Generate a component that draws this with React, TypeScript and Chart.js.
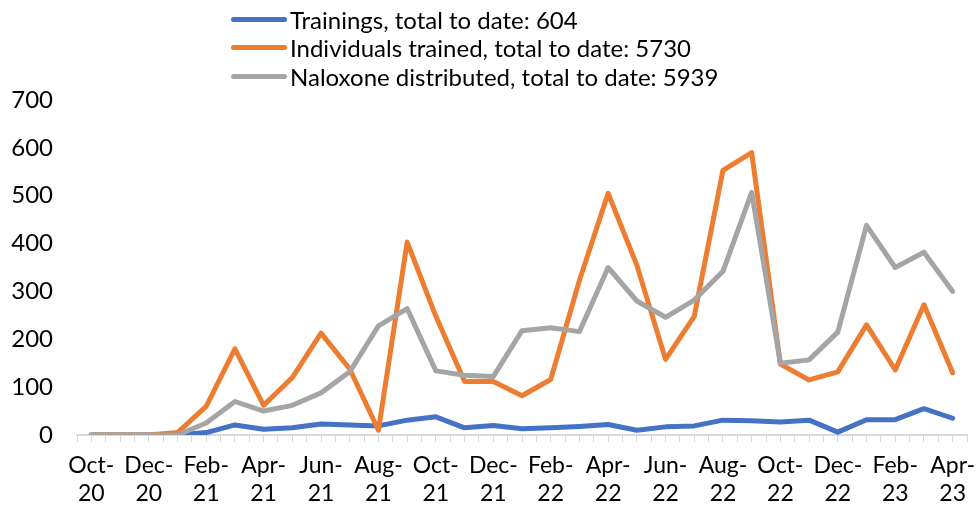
import React, { useEffect, useRef } from "react";
import { Chart, registerables } from "chart.js";

Chart.register(...registerables);

const months: string[] = [
  "Oct-20", "Nov-20", "Dec-20", "Jan-21", "Feb-21", "Mar-21", "Apr-21", "May-21",
  "Jun-21", "Jul-21", "Aug-21", "Sep-21", "Oct-21", "Nov-21", "Dec-21", "Jan-22",
  "Feb-22", "Mar-22", "Apr-22", "May-22", "Jun-22", "Jul-22", "Aug-22", "Sep-22",
  "Oct-22", "Nov-22", "Dec-22", "Jan-23", "Feb-23", "Mar-23", "Apr-23",
];

const trainings: number[] = [
  0, 0, 0, 0, 5, 21, 12, 15, 23, 21, 19, 31, 38, 15, 20, 13,
  15, 18, 22, 10, 17, 19, 31, 30, 27, 31, 6, 32, 32, 55, 35,
];

const individuals: number[] = [
  0, 0, 0, 5, 60, 180, 62, 120, 213, 138, 10, 403, 248, 112, 112, 82,
  116, 323, 505, 355, 158, 248, 553, 590, 148, 115, 132, 230, 136, 272, 130,
];

const naloxone: number[] = [
  0, 0, 0, 0, 25, 70, 50, 62, 88, 132, 228, 264, 134, 125, 122, 218,
  224, 216, 350, 280, 246, 282, 342, 507, 150, 157, 215, 438, 350, 382, 300,
];

const seriesNames: string[] = [
  "Trainings, total to date: 604",
  "Individuals trained, total to date: 5730",
  "Naloxone distributed, total to date: 5939",
];

const seriesColors: string[] = ["#4472C4", "#ED7D31", "#A5A5A5"];

const yTicks: number[] = [0, 100, 200, 300, 400, 500, 600, 700];

const FONT = "Lato, 'Noto Sans', sans-serif";

export default function App() {
  const canvasRef = useRef<HTMLCanvasElement | null>(null);

  useEffect(() => {
    if (!canvasRef.current) return;
    const toPoints = (arr: number[]) => arr.map((v, i) => ({ x: i, y: v }));
    const allSeries = [trainings, individuals, naloxone];
    const chart = new Chart(canvasRef.current, {
      type: "line",
      data: {
        datasets: allSeries.map((arr, i) => ({
          label: seriesNames[i],
          data: toPoints(arr),
          borderColor: seriesColors[i],
          backgroundColor: seriesColors[i],
          borderWidth: 5,
          pointRadius: 0,
          tension: 0,
          borderCapStyle: "round" as const,
          borderJoinStyle: "round" as const,
          order: 3 - i,
        })),
      },
      options: {
        animation: false,
        responsive: false,
        maintainAspectRatio: false,
        layout: { padding: { top: 100, right: 10, left: 0, bottom: 0 } },
        plugins: {
          legend: { display: false },
          tooltip: { enabled: false },
        },
        scales: {
          x: {
            type: "linear",
            min: -0.5,
            max: months.length - 0.5,
            afterFit: (scale: any) => {
              scale.height = 75;
            },
            afterBuildTicks: (scale: any) => {
              const t: { value: number }[] = [];
              for (let k = -1; k <= months.length * 2 - 1; k++) t.push({ value: k / 2 });
              scale.ticks = t;
            },
            ticks: {
              autoSkip: false,
              maxRotation: 0,
              minRotation: 0,
              padding: 10,
              color: "#000",
              font: { family: FONT, size: 23 },
              callback: (value: any) => {
                const v = Number(value);
                if (Number.isInteger(v) && v % 2 === 0 && v >= 0 && v < months.length) {
                  const [m, y] = months[v].split("-");
                  return [m + "-", y];
                }
                return "";
              },
            },
            grid: {
              drawOnChartArea: false,
              drawTicks: true,
              tickLength: 7,
              color: "#D9D9D9",
              lineWidth: 1,
            },
            border: { display: true, color: "#D9D9D9", width: 2 },
          },
          y: {
            min: 0,
            max: 700,
            afterFit: (scale: any) => {
              scale.width = 77;
            },
            afterBuildTicks: (scale: any) => {
              scale.ticks = yTicks.map((v) => ({ value: v }));
            },
            ticks: {
              padding: 24,
              color: "#000",
              font: { family: FONT, size: 24 },
            },
            grid: { display: false, drawTicks: false },
            border: { display: false },
          },
        },
      },
    });
    return () => chart.destroy();
  }, []);

  return (
    <div style={{ position: "fixed", left: 0, top: 0, width: 977, height: 510, background: "#fff" }}>
      <canvas ref={canvasRef} width={977} height={510} style={{ position: "absolute", left: 0, top: 0 }} />
      {seriesNames.map((name, i) => (
        <div
          key={name}
          style={{
            position: "absolute",
            left: 231,
            top: 19 + i * 28.5 - 15,
            height: 30,
            display: "flex",
            alignItems: "center",
            fontFamily: FONT,
            fontSize: 24,
            color: "#000",
            whiteSpace: "nowrap",
          }}
        >
          <span
            style={{
              display: "inline-block",
              width: 56,
              height: 5,
              borderRadius: 3,
              background: seriesColors[i],
              marginRight: 3,
            }}
          />
          <span>{name}</span>
        </div>
      ))}
    </div>
  );
}
